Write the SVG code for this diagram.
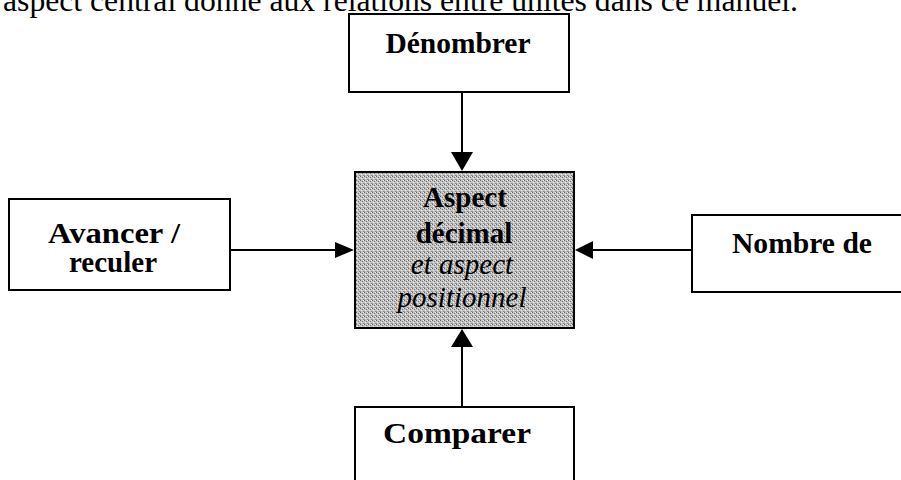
<svg xmlns="http://www.w3.org/2000/svg" width="901" height="480" viewBox="0 0 901 480">
<style>
.box{fill:#fff;stroke:#000;stroke-width:2}
.t{font-family:"Liberation Serif","Times New Roman",serif;font-size:29px;font-weight:bold;fill:#000;text-anchor:middle}
.ti{font-family:"Liberation Serif","Times New Roman",serif;font-size:29px;font-style:italic;fill:#000;text-anchor:middle}
.top{font-family:"Liberation Serif","Times New Roman",serif;font-size:31px;fill:#000}
.ln{stroke:#000;stroke-width:2;fill:none}
.hd{fill:#000}
</style>
<defs>
<pattern id="dith" width="4" height="4" patternUnits="userSpaceOnUse">
<rect width="4" height="4" fill="#c4c4c4"/>
<rect x="0" y="0" width="1" height="1" fill="#6a6a6a"/>
<rect x="2" y="1" width="1" height="1" fill="#7a7a7a"/>
<rect x="1" y="2" width="1" height="1" fill="#ececec"/>
<rect x="3" y="3" width="1" height="1" fill="#8a8a8a"/>
<rect x="3" y="0" width="1" height="1" fill="#e8e8e8"/>
<rect x="0" y="3" width="1" height="1" fill="#9a9a9a"/>
</pattern>
</defs>
<text class="top" x="3" y="11" textLength="795" lengthAdjust="spacingAndGlyphs">aspect central donné aux relations entre unités dans ce manuel.</text>
<g id="connectors">
<line class="ln" x1="462" y1="92" x2="462" y2="154"/>
<polygon class="hd" points="451,152 473,152 462,171"/>
<line class="ln" x1="462" y1="407" x2="462" y2="346"/>
<polygon class="hd" points="451,347 473,347 462,329"/>
<line class="ln" x1="230" y1="250" x2="337" y2="250"/>
<polygon class="hd" points="335,242 335,258 354,250"/>
<line class="ln" x1="692" y1="250" x2="592" y2="250"/>
<polygon class="hd" points="593,241 593,259 575,250"/>
</g>
<g id="denombrer">
<rect class="box" x="349" y="14" width="220" height="78"/>
<text class="t" x="458" y="53" textLength="145" lengthAdjust="spacingAndGlyphs">Dénombrer</text>
</g>
<g id="central">
<rect x="355" y="172" width="219" height="156" fill="url(#dith)" stroke="#000" stroke-width="2"/>
<text class="t" x="465" y="207">Aspect</text>
<text class="t" x="464" y="243">décimal</text>
<text class="ti" x="462" y="274">et aspect</text>
<text class="ti" x="462" y="307">positionnel</text>
</g>
<g id="avancer">
<rect class="box" x="9" y="199" width="221" height="91"/>
<text class="t" x="114" y="243" textLength="132" lengthAdjust="spacingAndGlyphs">Avancer /</text>
<text class="t" x="113" y="272">reculer</text>
</g>
<g id="nombre">
<rect class="box" x="692" y="215" width="230" height="77"/>
<text class="t" x="802" y="253" textLength="140" lengthAdjust="spacingAndGlyphs">Nombre de</text>
</g>
<g id="comparer">
<rect class="box" x="355" y="407" width="219" height="90"/>
<text class="t" x="457" y="443" textLength="148" lengthAdjust="spacingAndGlyphs">Comparer</text>
</g>
</svg>
